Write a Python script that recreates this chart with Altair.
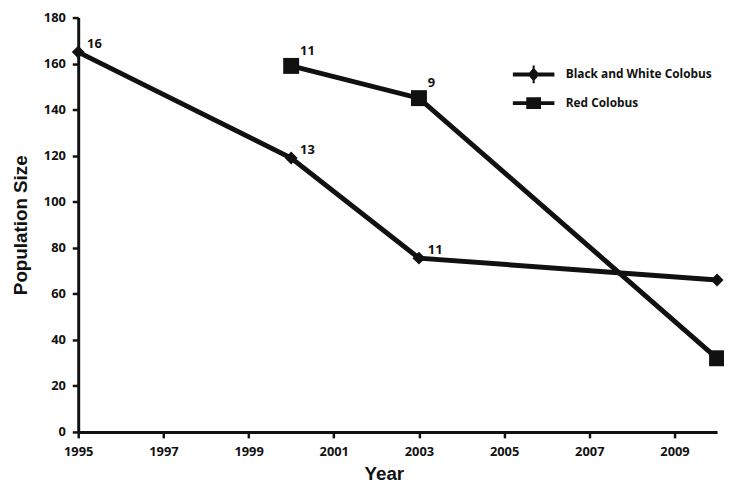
import altair as alt
import pandas as pd

# ---- data ----
series = ["Black and White Colobus", "Red Colobus"]
years_bw = [1995, 2000, 2003, 2010]
pop_bw = [165, 119, 75.5, 66]
labels_bw = ["16", "13", "11", ""]
years_red = [2000, 2003, 2010]
pop_red = [159, 145, 32]
labels_red = ["11", "9", ""]
x_ticks = [1995, 1997, 1999, 2001, 2003, 2005, 2007, 2009]
y_ticks = [0, 20, 40, 60, 80, 100, 120, 140, 160, 180]

FONT = "Open Sans"
TFONT = "Liberation Sans"
INK = "#111111"

df_bw = pd.DataFrame({"year": years_bw, "pop": pop_bw, "label": labels_bw, "series": series[0]})
df_red = pd.DataFrame({"year": years_red, "pop": pop_red, "label": labels_red, "series": series[1]})
df = pd.concat([df_bw, df_red], ignore_index=True)

x_enc = alt.X("year:Q",
              scale=alt.Scale(domain=[1995, 2010], nice=False, zero=False),
              axis=alt.Axis(values=x_ticks, format="d", title="Year", labelFlush=False,
                            titlePadding=6, labelPadding=8, titleX=309, titleAlign="center"))
y_enc = alt.Y("pop:Q",
              scale=alt.Scale(domain=[0, 180], nice=False),
              axis=alt.Axis(values=y_ticks, title="Population Size", titlePadding=13,
                            labelPadding=7))

base = alt.Chart(df).encode(x=x_enc, y=y_enc)

lines = base.mark_line(color=INK, strokeWidth=5).encode(detail="series:N")

pts_bw = alt.Chart(df_bw).mark_point(shape="diamond", filled=True, color=INK, opacity=1,
                                     size=170).encode(x="year:Q", y="pop:Q")
pts_red = alt.Chart(df_red).mark_point(shape="square", filled=True, color=INK, opacity=1,
                                       size=260).encode(x="year:Q", y="pop:Q")

txt_bw = alt.Chart(df_bw).mark_text(align="left", baseline="middle", dx=9, dy=-8,
                                    font=FONT, fontWeight="bold", fontSize=13,
                                    color=INK).encode(x="year:Q", y="pop:Q", text="label:N")
txt_red = alt.Chart(df_red).mark_text(align="left", baseline="middle", dx=9, dy=-15,
                                      font=FONT, fontWeight="bold", fontSize=13,
                                      color=INK).encode(x="year:Q", y="pop:Q", text="label:N")

# legend symbols: a short line with the marker on it (filled outlines only)
diamond_path = ("M-2,-0.19H2V0.19H-2Z"
                "M-0.1,-0.86H0.1V0.86H-0.1Z"
                "M0,-0.67L0.57,0L0,0.67L-0.57,0Z")
square_path = ("M-2,-0.19H2V0.19H-2Z"
               "M-0.71,-0.57H0.71V0.57H-0.71Z")

legend_layer = alt.Chart(df).transform_filter("false").mark_point(
    filled=True, color=INK, opacity=1, size=441
).encode(
    x="year:Q", y="pop:Q",
    shape=alt.Shape("series:N",
                    scale=alt.Scale(domain=series, range=[diamond_path, square_path]),
                    legend=alt.Legend(title=None, orient="none", legendX=450, legendY=47,
                                      symbolSize=441, symbolFillColor=INK,
                                      symbolStrokeWidth=0,
                                      symbolOpacity=1, labelOffset=22, rowPadding=9,
                                      padding=0, labelFont=FONT, labelFontWeight="bold",
                                      labelFontSize=12, labelColor=INK, labelLimit=400))
)

chart = alt.layer(lines, pts_bw, pts_red, txt_bw, txt_red, legend_layer).properties(
    width=646, height=419,
    autosize=alt.AutoSizeParams(type="none"),
    padding={"left": 71, "top": 7, "right": 7, "bottom": 52},
).configure_view(stroke=None).configure_axis(
    grid=False, domainColor=INK, domainWidth=3, tickColor=INK, tickWidth=2.5, tickSize=6,
    labelFont=FONT, labelFontWeight="bold", labelFontSize=13, labelColor=INK,
    titleFont=TFONT, titleFontWeight="bold", titleFontSize=19, titleColor=INK,
)

chart.save("out.html", embed_options={"renderer": "svg", "actions": False})
